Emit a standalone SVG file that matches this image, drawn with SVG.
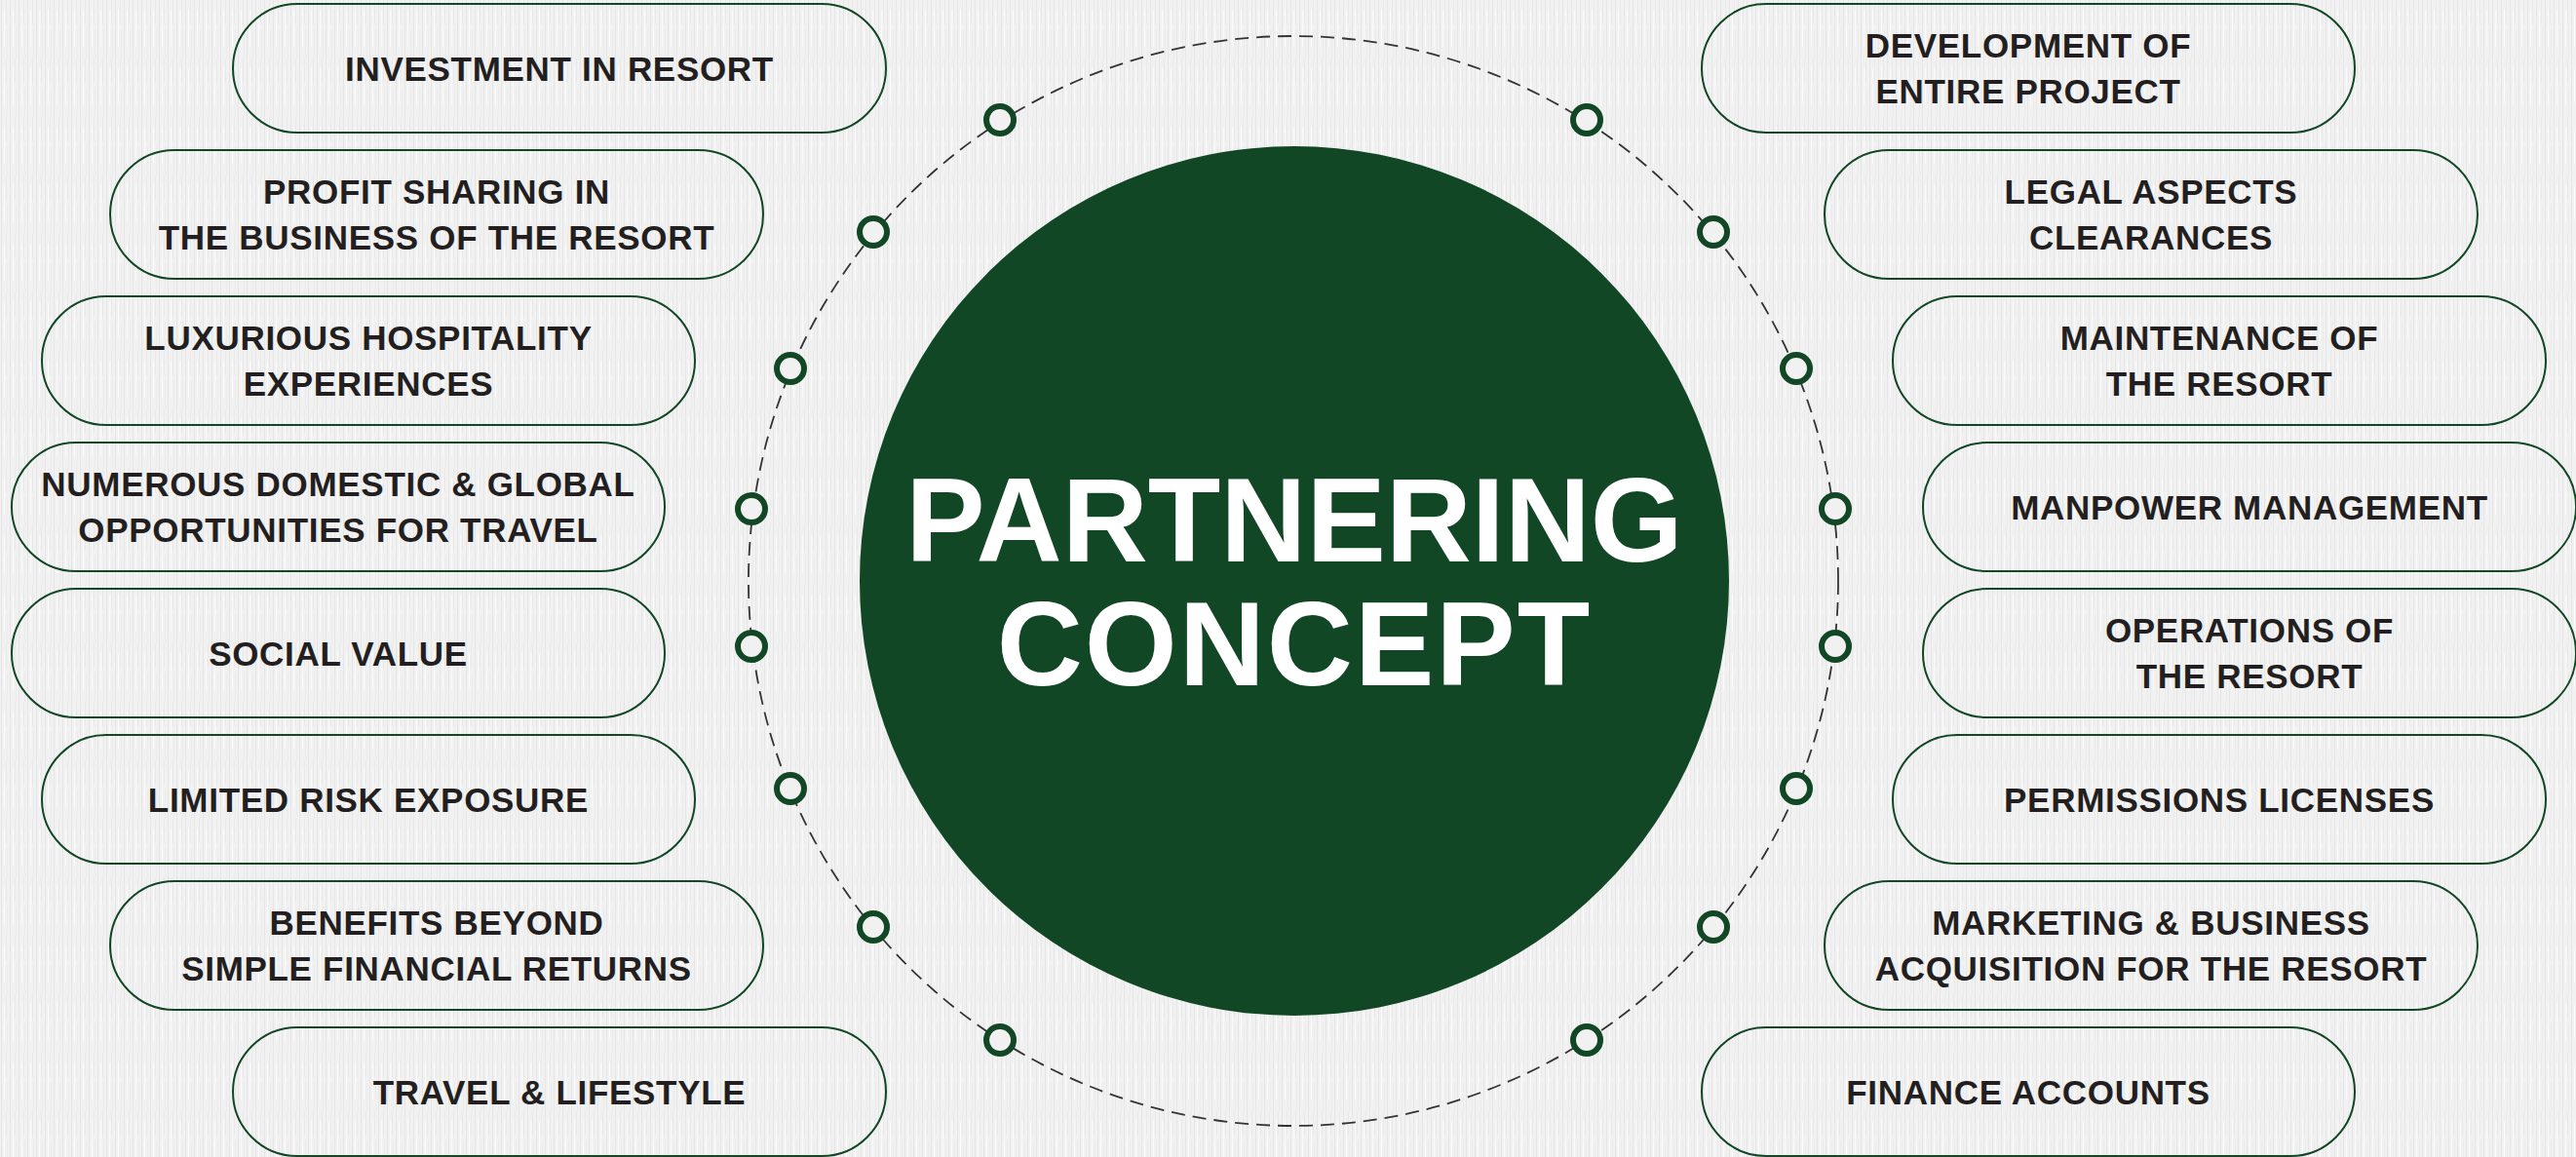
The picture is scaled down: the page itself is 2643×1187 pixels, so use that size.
<svg xmlns="http://www.w3.org/2000/svg" width="2643" height="1187" viewBox="0 0 2643 1187">
<defs>
<pattern id="bg" width="9" height="60" patternUnits="userSpaceOnUse">
<rect width="9" height="60" fill="#f1f1f1"/>
<rect x="1" y="0" width="1" height="60" fill="#e6e6e6"/>
<rect x="4" y="10" width="1" height="38" fill="#fafafa"/>
<rect x="6" y="0" width="1" height="25" fill="#e9e9e9"/>
<rect x="7" y="30" width="1" height="30" fill="#ebebeb"/>
</pattern>
</defs>
<style>
.pill{fill:none;stroke:#124726;stroke-width:2}
.lbl{font-family:"Liberation Sans",Arial,sans-serif;font-weight:700;font-size:35px;letter-spacing:0.7px;fill:#231f20;text-anchor:middle}
.dot{fill:#f1f1f1;stroke:#124726;stroke-width:6}
.title{font-family:"Liberation Sans",Arial,sans-serif;font-weight:700;font-size:122px;fill:#ffffff;text-anchor:middle}
</style>
<rect width="2643" height="1187" fill="url(#bg)"/>
<g id="connectors">
<circle cx="1327" cy="596" r="559" fill="none" stroke="#333333" stroke-width="1.8" stroke-dasharray="14 8"/>
</g>
<g id="center">
<circle cx="1328" cy="596" r="446" fill="#124726"/>
<text class="title" x="1328" y="576">PARTNERING</text>
<text class="title" x="1328" y="703" letter-spacing="2">CONCEPT</text>
</g>
<g id="dots">
<circle class="dot" cx="1026" cy="123" r="14"/>
<circle class="dot" cx="1628" cy="123" r="14"/>
<circle class="dot" cx="896" cy="238" r="14"/>
<circle class="dot" cx="1758" cy="238" r="14"/>
<circle class="dot" cx="811" cy="378" r="14"/>
<circle class="dot" cx="1843" cy="378" r="14"/>
<circle class="dot" cx="771" cy="522" r="14"/>
<circle class="dot" cx="1883" cy="522" r="14"/>
<circle class="dot" cx="771" cy="663" r="14"/>
<circle class="dot" cx="1883" cy="663" r="14"/>
<circle class="dot" cx="811" cy="809" r="14"/>
<circle class="dot" cx="1843" cy="809" r="14"/>
<circle class="dot" cx="896" cy="951" r="14"/>
<circle class="dot" cx="1758" cy="951" r="14"/>
<circle class="dot" cx="1026" cy="1067" r="14"/>
<circle class="dot" cx="1628" cy="1067" r="14"/>
</g>
<g id="l1"><rect class="pill" x="239" y="4" width="670" height="132" rx="66"/><text class="lbl" x="574" y="82.5">INVESTMENT IN RESORT</text></g>
<g id="l2"><rect class="pill" x="113" y="154" width="670" height="132" rx="66"/><text class="lbl" x="448" y="209">PROFIT SHARING IN</text><text class="lbl" x="448" y="256">THE BUSINESS OF THE RESORT</text></g>
<g id="l3"><rect class="pill" x="43" y="304" width="670" height="132" rx="66"/><text class="lbl" x="378" y="359">LUXURIOUS HOSPITALITY</text><text class="lbl" x="378" y="406">EXPERIENCES</text></g>
<g id="l4"><rect class="pill" x="12" y="454" width="670" height="132" rx="66"/><text class="lbl" x="347" y="509">NUMEROUS DOMESTIC &amp; GLOBAL</text><text class="lbl" x="347" y="556">OPPORTUNITIES FOR TRAVEL</text></g>
<g id="l5"><rect class="pill" x="12" y="604" width="670" height="132" rx="66"/><text class="lbl" x="347" y="682.5">SOCIAL VALUE</text></g>
<g id="l6"><rect class="pill" x="43" y="754" width="670" height="132" rx="66"/><text class="lbl" x="378" y="832.5">LIMITED RISK EXPOSURE</text></g>
<g id="l7"><rect class="pill" x="113" y="904" width="670" height="132" rx="66"/><text class="lbl" x="448" y="959">BENEFITS BEYOND</text><text class="lbl" x="448" y="1006">SIMPLE FINANCIAL RETURNS</text></g>
<g id="l8"><rect class="pill" x="239" y="1054" width="670" height="132" rx="66"/><text class="lbl" x="574" y="1132.5">TRAVEL &amp; LIFESTYLE</text></g>
<g id="r1"><rect class="pill" x="1746" y="4" width="670" height="132" rx="66"/><text class="lbl" x="2081" y="59">DEVELOPMENT OF</text><text class="lbl" x="2081" y="106">ENTIRE PROJECT</text></g>
<g id="r2"><rect class="pill" x="1872" y="154" width="670" height="132" rx="66"/><text class="lbl" x="2207" y="209">LEGAL ASPECTS</text><text class="lbl" x="2207" y="256">CLEARANCES</text></g>
<g id="r3"><rect class="pill" x="1942" y="304" width="670" height="132" rx="66"/><text class="lbl" x="2277" y="359">MAINTENANCE OF</text><text class="lbl" x="2277" y="406">THE RESORT</text></g>
<g id="r4"><rect class="pill" x="1973" y="454" width="670" height="132" rx="66"/><text class="lbl" x="2308" y="532.5">MANPOWER MANAGEMENT</text></g>
<g id="r5"><rect class="pill" x="1973" y="604" width="670" height="132" rx="66"/><text class="lbl" x="2308" y="659">OPERATIONS OF</text><text class="lbl" x="2308" y="706">THE RESORT</text></g>
<g id="r6"><rect class="pill" x="1942" y="754" width="670" height="132" rx="66"/><text class="lbl" x="2277" y="832.5">PERMISSIONS LICENSES</text></g>
<g id="r7"><rect class="pill" x="1872" y="904" width="670" height="132" rx="66"/><text class="lbl" x="2207" y="959">MARKETING &amp; BUSINESS</text><text class="lbl" x="2207" y="1006">ACQUISITION FOR THE RESORT</text></g>
<g id="r8"><rect class="pill" x="1746" y="1054" width="670" height="132" rx="66"/><text class="lbl" x="2081" y="1132.5">FINANCE ACCOUNTS</text></g>
</svg>
